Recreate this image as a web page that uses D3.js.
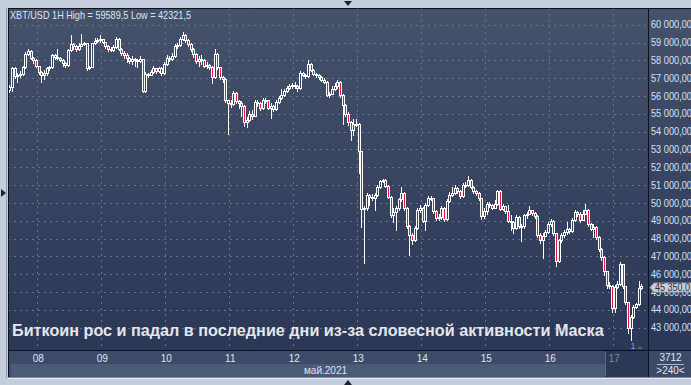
<!DOCTYPE html>
<html><head><meta charset="utf-8">
<script src="https://cdn.jsdelivr.net/npm/d3@7/dist/d3.min.js"></script>
<style>html,body{margin:0;padding:0;background:#c3cddb;}svg{display:block;}</style>
</head><body>
<svg id="c" width="691" height="385"></svg>
<script>
// ---- DATA (XBT/USD, 1H candles, first candle 2021-05-07 13:00) ----
const title = "XBT/USD 1H High = 59589,5 Low = 42321,5";
const caption = "Биткоин рос и падал в последние дни из-за словесной активности Маска";
const monthLabel = "май.2021";
const dayLabels = ["08","09","10","11","12","13","14","15","16","17"];
const yTicks = [43000,44000,45000,46000,47000,48000,49000,50000,51000,52000,53000,54000,55000,56000,57000,58000,59000,60000];
const lastPrice = 45350;
const firstOpen = 56350;
const close = [
 56480,57550,57100,57200,57250,57620,58350,58550,58150,58000,57700,
 57350,57150,57300,57550,57600,58280,58200,58150,58000,57850,57750,58570,58900,58800,58650,58800,58900,58950,57550,57600,58950,59100,59150,59200,
 59050,58800,58650,58600,58750,59200,58650,58400,58300,58150,57950,58100,58000,57950,58050,56300,57250,57200,57350,57550,57400,57550,57300,57800,
 58150,58100,58250,58800,58850,59200,59400,59150,58900,58650,58350,57950,58100,58000,57700,57750,57650,57050,58350,57600,57050,56950,55750,55600,
 55550,56150,55700,55600,55450,54550,54650,55000,54900,55650,55600,55300,55800,55750,55350,55450,55250,55650,55900,56050,56300,56450,56550,56600,
 56550,56450,57300,57200,57100,57800,57450,57250,57150,57050,56900,56800,56050,56100,56400,56550,56800,56050,55500,55000,54550,54100,54400,54450,
 52900,49650,49700,50450,50350,50300,50450,50900,51250,51300,50950,50350,49300,49500,49700,50200,50550,49700,48700,48220,47900,48600,49600,49700,
 49000,49900,50300,50250,49550,49150,49200,49700,49100,50100,50450,50550,50850,50650,50400,51000,51000,51300,50900,50650,50550,50250,49250,49550,
 49950,49900,49700,49950,50650,49650,49800,49550,49000,48950,48600,49200,48700,48700,49300,49400,49600,49450,49250,48200,47900,48150,48350,48800,
 49000,48300,46750,47900,48200,48350,48550,48400,49050,49500,49350,49050,49400,49600,48800,48550,48650,48100,47400,46950,46150,45400,45350,44100,
 45300,45450,46550,45350,44450,42950,43600,44150,44300,45200,45350
];
const high = [
 56620,57650,57620,57300,57400,57700,58450,58650,58600,58200,58050,
 57700,57400,57450,57650,57700,58350,58350,58660,58200,58050,57900,58650,59400,58950,58850,59000,59450,59050,58980,57700,59000,59250,59250,59400,
 59200,59050,58850,58750,58850,59300,59250,58700,58500,58400,58200,58250,58150,58100,58250,58100,57350,57300,57450,57700,57550,57650,57600,57900,
 58300,58250,58400,58900,59000,59300,59589.5,59450,59200,58950,58700,58400,58250,58300,58050,57900,57800,57700,58650,58400,57650,57100,57000,55800,
 55800,56300,56250,55800,55700,55500,54800,55150,55200,55750,55750,55650,55900,55900,55800,55600,55500,55750,56000,56400,56400,56550,56650,56750,
 56780,56600,57400,57350,57250,58000,57850,57500,57300,57250,57100,57000,56850,56250,56550,56700,56880,56850,56100,55550,55100,54600,54700,54700,
 54500,52900,49800,50550,50500,50500,50550,51000,51300,51350,51350,51000,50400,49700,49800,50300,50900,50600,49750,48750,48300,48700,49700,49900,
 49750,50000,50400,50400,50300,49600,49350,49800,49750,50200,50600,50900,51000,50900,50700,51100,51150,51500,51350,50950,50700,50600,50300,49700,
 50050,50050,49950,50150,50700,50700,49950,49850,49900,49300,49000,49300,49250,48800,49400,49500,49850,49600,49500,49300,48300,48300,48450,48900,
 49100,49050,48300,48000,48300,48450,48900,48600,49150,49600,49550,49500,49600,49950,49650,48850,48800,48700,48150,47450,47000,46200,45550,45400,
 45400,45600,46700,46550,45350,44450,43700,44250,44400,45600,45450
];
const low = [
 56210,56300,57000,56800,57050,57200,57550,58300,58050,57850,57600,
 57250,56780,56950,57200,57450,57550,58050,58050,57950,57700,57650,57700,58550,58650,58550,58600,58800,58850,57450,57500,57600,58900,59050,59050,
 58950,58700,58550,58500,58550,58700,58600,58300,58150,57900,57850,57800,57700,57600,57900,56200,56200,57050,57150,57300,57300,57350,57200,57250,
 57750,57950,58000,58200,58700,58800,59150,59050,58800,58550,58200,57850,57700,57800,57600,57550,57500,56700,57000,57500,56950,56800,55650,53850,
 55400,55500,55600,55300,54900,54300,54250,54600,54700,54850,55450,55200,55250,55600,55250,54750,55150,55200,55600,55850,56000,56250,56400,56450,
 56450,56300,56400,57100,57000,57050,57400,57150,57050,56950,56850,56750,56000,55950,56100,56350,56450,55950,54400,54900,54350,53550,53800,54300,
 51700,48650,46640,49600,49900,50150,49600,50400,50850,51150,50900,50250,49200,48900,48500,49600,50100,49600,48600,47100,47700,47850,48550,49500,
 48900,48500,49800,50150,49450,49050,49050,49100,49000,49050,50050,50400,50500,50550,50300,50350,50900,50950,50850,50550,50450,50150,49100,49150,
 49400,49750,49650,49700,49900,49600,49600,49450,48900,48450,48300,48550,48600,47850,48600,49150,49350,49300,49150,48100,47750,46880,48150,48300,
 48700,48200,46450,46700,47800,48100,48250,48300,48350,49000,49250,48950,49300,49350,48700,48450,48100,47950,47300,46800,45950,45250,45200,43900,
 43900,45200,45400,45250,44350,42700,42321.5,43550,44100,44250,45150
];
const startTime = Date.UTC(2021,4,7,13);
const HOUR = 3600000;

// ---- BUILD ----
const candles = close.map((c,i)=>({
  t: new Date(startTime + i*HOUR),
  o: i===0 ? firstOpen : close[i-1], c, h: high[i], l: low[i]
}));

const svg = d3.select("#c");
const P = {l:8, t:8, r:648, b:350};
const FONT = "Liberation Sans, Arial, sans-serif";

const x = d3.scaleUtc()
  .domain([new Date(Date.UTC(2021,4,8)), new Date(Date.UTC(2021,4,17))])
  .range([37.3, 613.3]);
const y = d3.scaleLinear().domain([43000,60000]).range([327.6,24.7]);

const defs = svg.append("defs");
const g1 = defs.append("linearGradient").attr("id","bg").attr("x1",0).attr("y1",0).attr("x2",0).attr("y2",1);
g1.append("stop").attr("offset","0%").attr("stop-color","#46516a");
g1.append("stop").attr("offset","100%").attr("stop-color","#2a3756");
defs.append("clipPath").attr("id","clip").append("rect")
  .attr("x",P.l+1).attr("y",P.t+1).attr("width",P.r-P.l-1).attr("height",P.b-P.t-1);

// outer frame
svg.append("rect").attr("width",691).attr("height",385).attr("fill","#c3cddb");
svg.append("line").attr("x1",6.5).attr("x2",6.5).attr("y1",8).attr("y2",378).attr("stroke","#8f9aab");
svg.append("line").attr("x1",8).attr("x2",691).attr("y1",378.5).attr("y2",378.5).attr("stroke","#e8edf3");

// plot + right panel background
svg.append("rect").attr("x",P.l).attr("y",P.t).attr("width",691-P.l).attr("height",P.b-P.t).attr("fill","url(#bg)");

// bottom axis strips
svg.append("rect").attr("x",P.l).attr("y",P.b).attr("width",691-P.l).attr("height",14).attr("fill","#3d4b68");
svg.append("rect").attr("x",P.l).attr("y",364).attr("width",P.r-P.l).attr("height",13).attr("fill","#3d4b68");
svg.append("rect").attr("x",P.l+3).attr("y",364).attr("width",P.r-P.l-3).attr("height",13).attr("fill","#4b5a77");
// current day highlight
svg.append("rect").attr("x",605).attr("y",P.b+1).attr("width",P.r-605).attr("height",26).attr("fill","#2c3956");
svg.append("line").attr("x1",605.5).attr("x2",605.5).attr("y1",P.b+2).attr("y2",376).attr("stroke","#5d6a82");
// right-bottom box
svg.append("rect").attr("x",P.r).attr("y",P.b).attr("width",691-P.r).attr("height",27).attr("fill","#3d4b68");

// gridlines
const grid = svg.append("g").attr("clip-path","url(#clip)");
grid.selectAll("line.h").data(yTicks).join("line")
  .attr("x1",P.l).attr("x2",P.r).attr("y1",d=>Math.round(y(d))+0.5).attr("y2",d=>Math.round(y(d))+0.5)
  .attr("stroke","#65728c").attr("stroke-dasharray","2,4");
const days = d3.utcDay.range(new Date(Date.UTC(2021,4,8)), new Date(Date.UTC(2021,4,17,1)));
grid.selectAll("line.v").data(days).join("line")
  .attr("x1",d=>Math.round(x(d))+0.5).attr("x2",d=>Math.round(x(d))+0.5).attr("y1",P.t).attr("y2",P.b)
  .attr("stroke","#65728c").attr("stroke-dasharray","2,4");

// caption (behind candles)
svg.append("text").attr("x",12).attr("y",335.5).text(caption)
  .attr("font-family",FONT).attr("font-weight","bold")
  .attr("font-size",16.2).attr("fill","#e4e6ea");

// candles
const cg = svg.append("g").attr("clip-path","url(#clip)");
const cx = d => Math.round(x(new Date(+d.t + HOUR/2)));
cg.selectAll("line.w").data(candles).join("line")
  .attr("x1",d=>cx(d)+0.5).attr("x2",d=>cx(d)+0.5)
  .attr("y1",d=>Math.round(y(d.h))).attr("y2",d=>Math.round(y(d.l))+1)
  .attr("stroke","#ffffff").attr("stroke-width",1);
cg.selectAll("rect.b").data(candles).join("rect")
  .attr("x",d=>cx(d)-0.5)
  .attr("y",d=>Math.round(y(Math.max(d.o,d.c)))+0.5)
  .attr("width",2)
  .attr("height",d=>Math.max(1,Math.round(y(Math.min(d.o,d.c)))-Math.round(y(Math.max(d.o,d.c)))))
  .attr("fill",d=>d.c<d.o ? "#e5173f" : "#36435f")
  .attr("stroke","#ffffff").attr("stroke-width",1);

// frame lines
svg.append("line").attr("x1",P.l).attr("x2",691).attr("y1",P.t+0.5).attr("y2",P.t+0.5).attr("stroke","#0d1220");
svg.append("line").attr("x1",P.l+0.5).attr("x2",P.l+0.5).attr("y1",P.t).attr("y2",377).attr("stroke","#0d1220");
svg.append("line").attr("x1",P.r+0.5).attr("x2",P.r+0.5).attr("y1",P.t).attr("y2",377).attr("stroke","#0d1220");
svg.append("line").attr("x1",P.l).attr("x2",691).attr("y1",P.b+0.5).attr("y2",P.b+0.5).attr("stroke","#0d1220");
svg.append("line").attr("x1",P.l).attr("x2",691).attr("y1",377.5).attr("y2",377.5).attr("stroke","#7f8ba0");

// title
svg.append("text").attr("x",10).attr("y",18.8).text(title)
  .attr("font-family",FONT).attr("font-size",10.8).attr("fill","#dde6f3")
  .attr("textLength",181).attr("lengthAdjust","spacingAndGlyphs");

// y axis labels
const loc = d3.formatLocale({decimal:",", thousands:"\u00a0", grouping:[3], currency:["",""]});
const fmt = loc.format(",.2f");
svg.append("g").selectAll("text").data(yTicks).join("text")
  .attr("x",651).attr("y",d=>y(d)+3.7).text(d=>fmt(d))
  .attr("font-family",FONT).attr("font-size",10.4).attr("fill","#d3e2f5")
  .attr("textLength",41).attr("lengthAdjust","spacingAndGlyphs");

// price tag
const py = 287.5;
svg.append("path").attr("d",`M650,${py} L654,${py-4.5} L691,${py-4.5} L691,${py+4.5} L654,${py+4.5} Z`)
  .attr("fill","#c9cdd5").attr("stroke","#9aa1ad");
svg.append("text").attr("x",655).attr("y",py+3.7).text(loc.format(",.1f")(lastPrice))
  .attr("font-family",FONT).attr("font-size",10.4).attr("fill","#2d3440")
  .attr("textLength",35).attr("lengthAdjust","spacingAndGlyphs");

// x axis day labels
svg.append("g").selectAll("text").data(days).join("text")
  .attr("x",d=>x(d)+1).attr("y",361.5).attr("text-anchor","middle")
  .text((d,i)=>dayLabels[i])
  .attr("font-family",FONT).attr("font-size",10)
  .attr("fill",(d,i)=>i===dayLabels.length-1 ? "#7c889e" : "#dde6f3");
svg.append("text").attr("x",347).attr("y",374).attr("text-anchor","end").text(monthLabel)
  .attr("font-family",FONT).attr("font-size",10).attr("fill","#dde6f3");

// bottom-right counter
svg.append("text").attr("x",670.5).attr("y",361).attr("text-anchor","middle").text("3712")
  .attr("font-family",FONT).attr("font-size",10).attr("fill","#dde6f3");
svg.append("line").attr("x1",657).attr("x2",684).attr("y1",364.5).attr("y2",364.5).attr("stroke","#aab6c8");
svg.append("text").attr("x",670.5).attr("y",374).attr("text-anchor","middle").text(">240<")
  .attr("font-family",FONT).attr("font-size",10).attr("fill","#dde6f3");

// small markers
svg.append("text").attr("x",633).attr("y",349).attr("text-anchor","middle").text("1")
  .attr("font-family",FONT).attr("font-size",9).attr("fill","#6aa6e6");
svg.append("path").attr("d","M637,349 L643,349 L640,346 Z").attr("fill","#55627a");
svg.append("path").attr("d","M344,1 L352,1 L348,6 Z").attr("fill","#1a2233");
svg.append("path").attr("d","M1,189 L1,197 L6,193 Z").attr("fill","#1a2233");
svg.append("path").attr("d","M344,385 L352,385 L348,380 Z").attr("fill","#1a2233");
</script>
</body></html>
